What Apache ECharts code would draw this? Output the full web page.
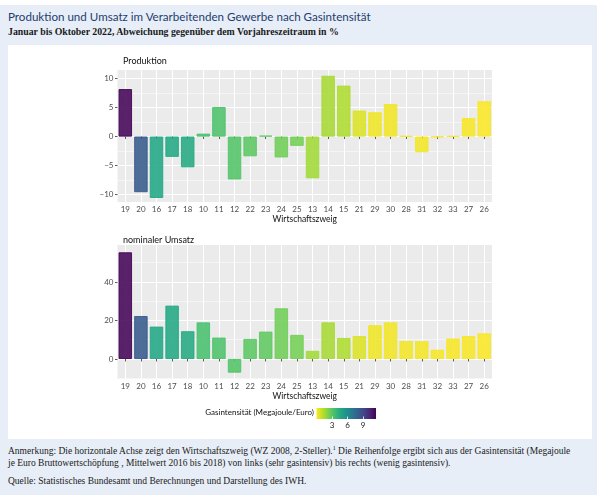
<!DOCTYPE html>
<html>
<head>
<meta charset="utf-8">
<script src="https://cdn.jsdelivr.net/npm/echarts@6/dist/echarts.min.js"></script>
<style>
  html, body { margin: 0; padding: 0; background: #ffffff; }
  body { width: 600px; height: 500px; position: relative; overflow: hidden; }
  #box { position: absolute; left: 0; top: 5px; width: 597px; height: 490px; background: #e7eef7; }
  #title { position: absolute; left: 8px; top: 10px; font-family: Lato, "Noto Sans", sans-serif; font-size: 11.6px; color: #1e3d6e; white-space: nowrap; }
  #subtitle { position: absolute; left: 8px; top: 26px; font-family: "Liberation Serif", serif; font-weight: bold; font-size: 9.8px; color: #1a1a1a; white-space: nowrap; }
  #chart { position: absolute; left: 8px; top: 45px; width: 584px; height: 394px; background: #ffffff; }
  .note { position: absolute; left: 8px; font-family: "Liberation Serif", serif; font-size: 9.5px; color: #1a1a1a; white-space: nowrap; }
  sup { font-size: 6px; vertical-align: 4px; line-height: 0; }
</style>
</head>
<body>
<div id="box"></div>
<div id="title">Produktion und Umsatz im Verarbeitenden Gewerbe nach Gasintensität</div>
<div id="subtitle">Januar bis Oktober 2022, Abweichung gegenüber dem Vorjahreszeitraum in %</div>
<div id="chart"></div>
<div class="note" style="top:446px">Anmerkung: Die horizontale Achse zeigt den Wirtschaftszweig (WZ 2008, 2-Steller).<sup>1</sup> Die Reihenfolge ergibt sich aus der Gasintensität (Megajoule</div>
<div class="note" style="top:457.5px">je Euro Bruttowertschöpfung , Mittelwert 2016 bis 2018) von links (sehr gasintensiv) bis rechts (wenig gasintensiv).</div>
<div class="note" style="top:475.5px">Quelle: Statistisches Bundesamt und Berechnungen und Darstellung des IWH.</div>
<script>
// ---- data ----
const categories = ['19','20','16','17','18','10','11','12','22','23','24','25','13','14','15','21','29','30','28','31','32','33','27','26'];
const produktion = [8.2,-9.6,-10.6,-3.5,-5.3,0.5,5.1,-7.4,-3.4,0.15,-3.6,-1.6,-7.2,10.5,8.8,4.5,4.2,5.6,0.08,-2.7,-0.08,0.08,3.2,6.1];
const umsatz = [55.4,22.3,16.8,27.7,14.4,19.0,11.1,-7.1,10.4,14.2,26.3,12.5,4.2,19.0,10.9,11.9,17.5,19.0,9.3,9.2,4.8,10.6,11.9,13.3];
const gasIntensity = [11.4,8.3,4.8,4.7,4.6,3.5,3.4,3.3,3.1,3.0,2.7,2.6,1.8,1.7,1.6,0.8,0.45,0.42,0.4,0.38,0.35,0.32,0.3,0.25];
const prodTicks = [-10,-5,0,5,10];
const prodMinor = [-7.5,-2.5,2.5,7.5];
const umsatzTicks = [0,20,40];
const umsatzMinor = [-10,10,30,50];
const legendTicks = [3,6,9];
const gasMin = 0.2, gasMax = 11.5;

// ---- colour scale (viridis, reversed: low = yellow) ----
const viridisStops = ['#440154','#482475','#414487','#355f8d','#2a788e','#21918c','#22a884','#44bf70','#7ad151','#bddf26','#fde725'];
function hex2rgb(h){ return [parseInt(h.substr(1,2),16),parseInt(h.substr(3,2),16),parseInt(h.substr(5,2),16)]; }
function viridis(t){
  t = Math.max(0, Math.min(1, t));
  const n = viridisStops.length - 1;
  const i = Math.min(n - 1, Math.floor(t * n));
  const f = t * n - i;
  const a = hex2rgb(viridisStops[i]), b = hex2rgb(viridisStops[i+1]);
  return a.map((v,k)=>Math.round(v + (b[k]-v)*f));
}
function gasColor(v, alpha){
  const c = viridis(1 - (v - gasMin)/(gasMax - gasMin));
  return 'rgba(' + c[0] + ',' + c[1] + ',' + c[2] + ',' + alpha + ')';
}
function barData(values){
  return values.map((v,i)=>({
    value: v,
    itemStyle: { color: gasColor(gasIntensity[i], 0.88), borderColor: gasColor(gasIntensity[i], 1), borderWidth: 0.9 }
  }));
}

const FONT = 'Lato, "Noto Sans", sans-serif';
const minus = v => String(v).replace('-', '\u2212');

function xAxisFor(gi){
  return {
    type: 'category', gridIndex: gi, data: categories,
    axisLine: { show: false },
    axisTick: { show: true, alignWithLabel: true, length: 2.5, lineStyle: { color: '#333', width: 0.8 } },
    axisLabel: { fontFamily: FONT, fontSize: 8, color: '#4d4d4d', margin: 3.5, interval: 0 },
    splitLine: { show: true, alignWithLabel: true, lineStyle: { color: '#ffffff', width: 1 } },
    name: 'Wirtschaftszweig', nameLocation: 'middle', nameGap: 11,
    nameTextStyle: { fontFamily: FONT, fontSize: 8.5, color: '#111' }
  };
}
function yAxisMajor(gi, min, max, ticks){
  return {
    type: 'value', gridIndex: gi, min: min, max: max,
    axisLine: { show: false },
    axisTick: { show: true, length: 2.5, customValues: ticks, lineStyle: { color: '#333', width: 0.8 } },
    axisLabel: { customValues: ticks, fontFamily: FONT, fontSize: 8, color: '#4d4d4d', margin: 4, formatter: minus },
    splitLine: { show: true, lineStyle: { color: '#ffffff', width: 1 } }
  };
}
function yAxisMinor(gi, min, max, ticks){
  return {
    type: 'value', gridIndex: gi, min: min, max: max, position: 'left',
    axisLine: { show: false },
    axisTick: { show: false, customValues: ticks },
    axisLabel: { show: false, customValues: ticks },
    splitLine: { show: true, lineStyle: { color: '#ffffff', width: 0.5 } }
  };
}

const chart = echarts.init(document.getElementById('chart'), null, { renderer: 'canvas' });
const option = {
  animation: false,
  backgroundColor: '#ffffff',
  textStyle: { fontFamily: FONT },
  title: [
    { text: 'Produktion', left: 110, top: 7, textStyle: { fontFamily: FONT, fontSize: 9, fontWeight: 'normal', color: '#111' } },
    { text: 'nominaler Umsatz', left: 110, top: 185.5, textStyle: { fontFamily: FONT, fontSize: 9, fontWeight: 'normal', color: '#111' } }
  ],
  grid: [
    { left: 109.5, top: 25, width: 374.5, height: 132, show: true, backgroundColor: '#ebebeb', borderWidth: 0, containLabel: false, outerBoundsMode: 'none' },
    { left: 109.5, top: 200, width: 374.5, height: 134, show: true, backgroundColor: '#ebebeb', borderWidth: 0, containLabel: false, outerBoundsMode: 'none' },
    { left: 308.5, top: 363, width: 59.5, height: 11, show: true, borderWidth: 0, containLabel: false, outerBoundsMode: 'none',
      backgroundColor: new echarts.graphic.LinearGradient(0, 0, 1, 0,
        viridisStops.slice().reverse().map((c,i,arr)=>({ offset: i/(arr.length-1), color: c }))) }
  ],
  xAxis: [
    xAxisFor(0),
    xAxisFor(1),
    { type: 'value', gridIndex: 2, min: 0, max: gasMax,
      axisLine: { show: false },
      axisTick: { show: true, inside: true, length: 2.5, customValues: legendTicks, lineStyle: { color: '#ffffff', width: 0.8 } },
      axisLabel: { customValues: legendTicks, fontFamily: FONT, fontSize: 8, color: '#222', margin: 2.5 },
      splitLine: { show: false } }
  ],
  yAxis: [
    yAxisMajor(0, -11.3, 11.5, prodTicks),
    yAxisMinor(0, -11.3, 11.5, prodMinor),
    yAxisMajor(1, -10.4, 59.2, umsatzTicks),
    yAxisMinor(1, -10.4, 59.2, umsatzMinor),
    { type: 'value', gridIndex: 2, min: 0, max: 1, show: false }
  ],
  graphic: [
    { type: 'text', right: 278, top: 363.5, style: { text: 'Gasintensität (Megajoule/Euro)', font: '8px ' + FONT, fill: '#111' } }
  ],
  series: [
    { type: 'bar', xAxisIndex: 0, yAxisIndex: 0, barWidth: '86%', data: barData(produktion), z: 3 },
    { type: 'bar', xAxisIndex: 1, yAxisIndex: 2, barWidth: '86%', data: barData(umsatz), z: 3 }
  ]
};
chart.setOption(option);
</script>
</body>
</html>
